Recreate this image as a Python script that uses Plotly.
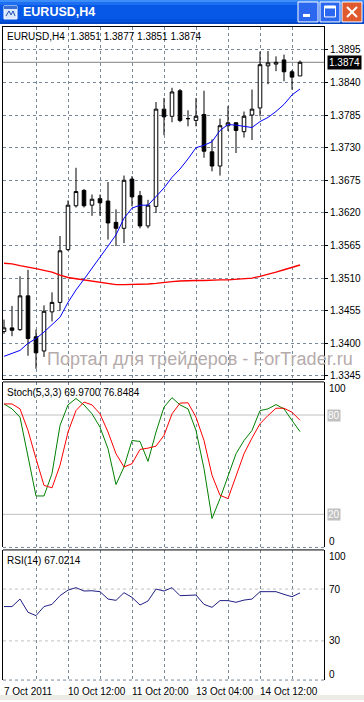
import plotly.graph_objects as go

W, H = 364, 702


def px(x):
    return x / W


def py(y):
    return 1 - y / H


# ---------------- data ----------------
bars = list(range(38))
opens = [1.3420, 1.3426, 1.3423, 1.3480, 1.3411, 1.3387, 1.3453, 1.3469, 1.3558, 1.3632,
         1.3658, 1.3633, 1.3644, 1.3640, 1.3604, 1.3594, 1.3677, 1.3649, 1.3598, 1.3631,
         1.3795, 1.3783, 1.3826, 1.3779, 1.3776, 1.3786, 1.3723, 1.3699, 1.3767, 1.3772,
         1.3757, 1.3785, 1.3797, 1.3868, 1.3871, 1.3878, 1.3858, 1.3851]
highs = [1.3440, 1.3463, 1.3513, 1.3524, 1.3423, 1.3464, 1.3486, 1.3581, 1.3641, 1.3696,
         1.3660, 1.3651, 1.3651, 1.3672, 1.3626, 1.3683, 1.3682, 1.3657, 1.3642, 1.3807,
         1.3814, 1.3831, 1.3829, 1.3793, 1.3814, 1.3826, 1.3744, 1.3779, 1.3800, 1.3773,
         1.3791, 1.3828, 1.3892, 1.3893, 1.3884, 1.3887, 1.3861, 1.3877]
lows = [1.3416, 1.3412, 1.3421, 1.3379, 1.3357, 1.3377, 1.3437, 1.3455, 1.3556, 1.3629,
        1.3629, 1.3615, 1.3615, 1.3575, 1.3564, 1.3569, 1.3631, 1.3594, 1.3594, 1.3620,
        1.3751, 1.3773, 1.3773, 1.3766, 1.3766, 1.3713, 1.3690, 1.3683, 1.3758, 1.3721,
        1.3747, 1.3743, 1.3783, 1.3837, 1.3859, 1.3842, 1.3828, 1.3851]
closes = [1.3426, 1.3422, 1.3480, 1.3408, 1.3384, 1.3454, 1.3469, 1.3556, 1.3633, 1.3656,
          1.3632, 1.3643, 1.3637, 1.3603, 1.3594, 1.3675, 1.3647, 1.3598, 1.3633, 1.3795,
          1.3782, 1.3824, 1.3776, 1.3779, 1.3783, 1.3724, 1.3699, 1.3767, 1.3772, 1.3759,
          1.3783, 1.3795, 1.3870, 1.3873, 1.3874, 1.3858, 1.3849, 1.3874]
ma_fast = [1.3378, 1.3383, 1.3388, 1.3400, 1.3408, 1.3419, 1.3431, 1.3444, 1.3469, 1.3490,
           1.3508, 1.3526, 1.3544, 1.3564, 1.3583, 1.3611, 1.3628, 1.3633, 1.3633, 1.3647,
           1.3662, 1.3680, 1.3694, 1.3711, 1.3730, 1.3734, 1.3740, 1.3759, 1.3769, 1.3768,
           1.3766, 1.3764, 1.3774, 1.3781, 1.3791, 1.3803, 1.3819, 1.3829]
ma_slow = [1.3535, 1.3534, 1.3531, 1.3529, 1.3526, 1.3523, 1.3520, 1.3515, 1.3511, 1.3509,
           1.3507, 1.3504, 1.3503, 1.3500, 1.3499, 1.3499, 1.3499, 1.3499, 1.3500, 1.3501,
           1.3503, 1.3504, 1.3505, 1.3506, 1.3506, 1.3506, 1.3507, 1.3507, 1.3507, 1.3508,
           1.3509, 1.3510, 1.3513, 1.3516, 1.3520, 1.3524, 1.3528, 1.3532]
stoch_k = [86.7, 83.7, 78.7, 55.6, 31.1, 31.1, 44.6, 73.7, 86.1, 90.0,
           86.1, 80.7, 72.7, 59.6, 38.0, 48.6, 64.6, 64.0, 52.0, 69.7,
           84.8, 90.5, 86.1, 83.7, 70.7, 47.6, 17.5, 29.5, 43.6, 56.6,
           64.6, 70.7, 82.7, 83.7, 86.3, 83.7, 76.7, 69.97]
stoch_d = [86.7, 86.7, 83.7, 70.7, 53.6, 37.5, 36.0, 49.6, 69.7, 82.7,
           87.8, 86.1, 80.7, 69.7, 56.6, 48.6, 50.6, 59.2, 60.0, 61.2,
           67.7, 80.7, 87.2, 87.4, 78.7, 64.6, 43.6, 31.5, 29.5, 43.6,
           56.6, 66.1, 74.7, 79.7, 84.1, 84.1, 81.7, 76.8484]
rsi = [56.5, 56.5, 62.3, 52.1, 49.5, 56.5, 58.2, 64.9, 69.2, 71.1,
       68.5, 68.7, 68.0, 62.3, 61.3, 67.2, 63.6, 57.7, 60.8, 70.0,
       68.5, 71.1, 64.9, 64.9, 65.4, 58.2, 55.9, 61.1, 61.1, 59.8,
       61.5, 62.3, 68.0, 68.0, 68.0, 65.9, 64.1, 67.0214]
price_ticks = [1.3345, 1.3400, 1.3455, 1.3510, 1.3565, 1.3620, 1.3675, 1.3730, 1.3785,
               1.3840, 1.3895]
grid_bars = [4, 8, 12, 16, 20, 24, 28, 32, 36]
time_labels = ["7 Oct 2011", "10 Oct 12:00", "11 Oct 20:00", "13 Oct 04:00", "14 Oct 12:00"]
time_label_bars = [0, 8, 16, 24, 32]
stoch_levels = [80, 20]
rsi_levels = [70, 30]

# ---------------- style ----------------
FONT = "Liberation Sans"
FS = 10
GRID = "#778899"
DASH = "3px,3px"

X0, X1 = 3, 324
MAIN = (27, 380.5)
STO = (383, 549)
RSI = (551.5, 682)

xr = [-0.125, (X1 - X0) / 8 - 0.125]

fig = go.Figure()

fig.add_trace(go.Candlestick(
    x=bars, open=opens, high=highs, low=lows, close=closes,
    increasing=dict(line=dict(color="black", width=1), fillcolor="white"),
    decreasing=dict(line=dict(color="black", width=1), fillcolor="black"),
    whiskerwidth=0, hoverinfo="skip", xaxis="x", yaxis="y", showlegend=False))
fig.add_trace(go.Scatter(x=bars, y=ma_slow, mode="lines", line=dict(color="#ff0000", width=1.4),
                         xaxis="x", yaxis="y", showlegend=False, hoverinfo="skip"))
fig.add_trace(go.Scatter(x=bars, y=ma_fast, mode="lines", line=dict(color="#0000ff", width=1),
                         xaxis="x", yaxis="y", showlegend=False, hoverinfo="skip"))
fig.add_trace(go.Scatter(x=bars, y=stoch_k, mode="lines", line=dict(color="#008000", width=1),
                         xaxis="x2", yaxis="y2", showlegend=False, hoverinfo="skip"))
fig.add_trace(go.Scatter(x=bars, y=stoch_d, mode="lines", line=dict(color="#ff0000", width=1),
                         xaxis="x2", yaxis="y2", showlegend=False, hoverinfo="skip"))
fig.add_trace(go.Scatter(x=bars, y=rsi, mode="lines", line=dict(color="#1f1f86", width=1),
                         xaxis="x3", yaxis="y3", showlegend=False, hoverinfo="skip"))

xcommon = dict(range=xr, tickvals=grid_bars, showgrid=True, gridcolor=GRID, griddash=DASH,
               gridwidth=1, showticklabels=False, ticks="", zeroline=False, fixedrange=True)

fig.update_layout(
    width=W, height=H, margin=dict(l=0, r=0, t=0, b=0),
    paper_bgcolor="white", plot_bgcolor="white", showlegend=False,
    font=dict(family=FONT, size=FS, color="black"),
    boxgap=0.36,
    xaxis=dict(domain=[px(X0), px(X1)], anchor="y", showline=True, linecolor="black",
               linewidth=1, mirror=True, rangeslider=dict(visible=False), **xcommon),
    yaxis=dict(domain=[py(MAIN[1]), py(MAIN[0])], anchor="x", side="right",
               range=[1.3895 - (MAIN[1] - 50) / 5945, 1.3895 + (50 - MAIN[0]) / 5945],
               tickvals=price_ticks, ticktext=[f"{v:.4f}" for v in price_ticks],
               showgrid=True, gridcolor=GRID, griddash=DASH, gridwidth=1,
               ticks="outside", ticklen=3, tickcolor="black",
               tickfont=dict(family=FONT, size=FS, color="black"),
               showline=True, linecolor="black", mirror=True, zeroline=False, fixedrange=True),
    xaxis2=dict(domain=[px(X0), px(X1)], anchor="y2", matches="x", showline=False, **xcommon),
    yaxis2=dict(domain=[py(STO[1]), py(STO[0])], anchor="x2", range=[0, 100], showgrid=False,
                showticklabels=False, ticks="", zeroline=False, showline=True,
                linecolor="black", mirror=True, fixedrange=True),
    xaxis3=dict(domain=[px(X0), px(X1)], anchor="y3", matches="x", showline=False, **xcommon),
    yaxis3=dict(domain=[py(RSI[1]), py(RSI[0])], anchor="x3", range=[-0.2, 100.2], showgrid=False,
                showticklabels=False, ticks="", zeroline=False, showline=True,
                linecolor="black", mirror=True, fixedrange=True),
)

shapes = []
# current price line
shapes.append(dict(type="line", xref="x domain", yref="y", x0=0, x1=1, y0=closes[-1], y1=closes[-1],
                   line=dict(color="#808080", width=1), layer="below"))
# level lines
for lv in stoch_levels:
    shapes.append(dict(type="line", xref="x2 domain", yref="y2", x0=0, x1=1, y0=lv, y1=lv,
                       line=dict(color="#c0c0c0", width=1), layer="below"))
for lv in rsi_levels:
    shapes.append(dict(type="line", xref="x3 domain", yref="y3", x0=0, x1=1, y0=lv, y1=lv,
                       line=dict(color="#c0c0c0", width=1, dash=DASH), layer="below"))
# sub-panel top (solid) and bottom (dashed) borders
for ax in ("2", "3"):
    shapes.append(dict(type="line", xref=f"x{ax} domain", yref=f"y{ax} domain", x0=0, x1=1, y0=1, y1=1,
                       line=dict(color="black", width=1)))
    shapes.append(dict(type="line", xref=f"x{ax} domain", yref=f"y{ax} domain", x0=0, x1=1, y0=0, y1=0,
                       line=dict(color=GRID, width=1, dash=DASH)))

# window chrome: title bar
bands = [(0, 2, "#3d8ef9"), (2, 5, "#1c6ff0"), (5, 19, "#0758e6"), (19, 22, "#0350dc"), (22, 24, "#0046c6")]
for y0, y1, c in bands:
    shapes.append(dict(type="rect", xref="paper", yref="paper", x0=0, x1=1, y0=py(y1), y1=py(y0),
                       fillcolor=c, line=dict(width=0), layer="above"))
# icon
shapes.append(dict(type="rect", xref="paper", yref="paper", x0=px(4), x1=px(17), y0=py(19), y1=py(6),
                   fillcolor="#d8e6ff", line=dict(color="white", width=1), layer="above"))
shapes.append(dict(type="rect", xref="paper", yref="paper", x0=px(4), x1=px(17), y0=py(9), y1=py(6),
                   fillcolor="#3a6fd8", line=dict(width=0), layer="above"))
shapes.append(dict(type="path", xref="paper", yref="paper", layer="above",
                   path=f"M {px(6)} {py(16)} L {px(9)} {py(11)} L {px(11)} {py(15)} L {px(13)} {py(11)} L {px(15)} {py(16)}",
                   line=dict(color="#2050b0", width=1)))
# buttons
for bx0, fill in ((298, "#2b67ef"), (320, "#2b67ef"), (342, "#e05a30")):
    shapes.append(dict(type="rect", xref="paper", yref="paper", x0=px(bx0), x1=px(bx0 + 20),
                       y0=py(22), y1=py(2), fillcolor=fill, line=dict(color="white", width=1), layer="above"))
shapes.append(dict(type="rect", xref="paper", yref="paper", x0=px(303), x1=px(310), y0=py(17), y1=py(14),
                   fillcolor="white", line=dict(width=0), layer="above"))
shapes.append(dict(type="rect", xref="paper", yref="paper", x0=px(324.5), x1=px(335.5), y0=py(17), y1=py(6),
                   fillcolor="rgba(0,0,0,0)", line=dict(color="white", width=1), layer="above"))
shapes.append(dict(type="rect", xref="paper", yref="paper", x0=px(324.5), x1=px(335.5), y0=py(8.5), y1=py(6),
                   fillcolor="white", line=dict(width=0), layer="above"))
for a, b in (((347, 7), (357, 17)), ((357, 7), (347, 17))):
    shapes.append(dict(type="line", xref="paper", yref="paper", x0=px(a[0]), y0=py(a[1]),
                       x1=px(b[0]), y1=py(b[1]), line=dict(color="white", width=2), layer="above"))
# bottom strip
shapes.append(dict(type="rect", xref="paper", yref="paper", x0=0, x1=1, y0=0, y1=py(697),
                   fillcolor="#ecebe6", line=dict(width=0), layer="above"))
fig.update_layout(shapes=shapes)

ann = []


def text(x, y, s, **kw):
    d = dict(x=px(x), y=py(y), xref="paper", yref="paper", text=s, showarrow=False,
             xanchor="left", yanchor="middle", font=dict(family=FONT, size=FS, color="black"))
    d.update(kw)
    ann.append(d)


text(21, 12, "<b>EURUSD,H4</b>", font=dict(family=FONT, size=12.5, color="white"))
text(5, 36.5, f"EURUSD,H4  {opens[-1]:.4f} {highs[-1]:.4f} {lows[-1]:.4f} {closes[-1]:.4f}")
text(5, 393.5, f"Stoch(5,3,3) {stoch_k[-1]:.4f} {stoch_d[-1]:.4f}")
text(5, 562.5, f"RSI({14}) {rsi[-1]:.4f}")
text(45, 360, "Портал для трейдеров - ForTrader.ru",
     font=dict(family=FONT, size=18, color="#b5abab"))

# current price box
ann.append(dict(x=px(326.5), y=closes[-1], xref="paper", yref="y", text=f"{closes[-1]:.4f}",
                showarrow=False, xanchor="left", yanchor="middle", bgcolor="black", borderpad=1,
                font=dict(family=FONT, size=FS, color="white")))

# stoch scale
text(327, 390, "100")
text(327, 543, "0")
for lv in stoch_levels:
    ann.append(dict(x=px(327), y=lv, xref="paper", yref="y2", text=str(lv), showarrow=False,
                    xanchor="left", yanchor="middle", bgcolor="#c0c0c0", borderpad=0,
                    font=dict(family=FONT, size=FS, color="white")))
# rsi scale
text(327, 558, "100")
text(327, 676, "0")
for lv in rsi_levels:
    ann.append(dict(x=px(327), y=lv, xref="paper", yref="y3", text=str(lv), showarrow=False,
                    xanchor="left", yanchor="middle", font=dict(family=FONT, size=FS, color="black")))

# time labels
for b, s in zip(time_label_bars, time_labels):
    ann.append(dict(x=b, y=py(693), xref="x3", yref="paper", text=s, showarrow=False,
                    xanchor="left", yanchor="middle", xshift=-2,
                    font=dict(family=FONT, size=FS, color="black")))

fig.update_layout(annotations=ann)
fig.write_html("out.html", config={"displayModeBar": False},
               post_script="document.body.style.margin='0';document.body.style.overflow='hidden';")
